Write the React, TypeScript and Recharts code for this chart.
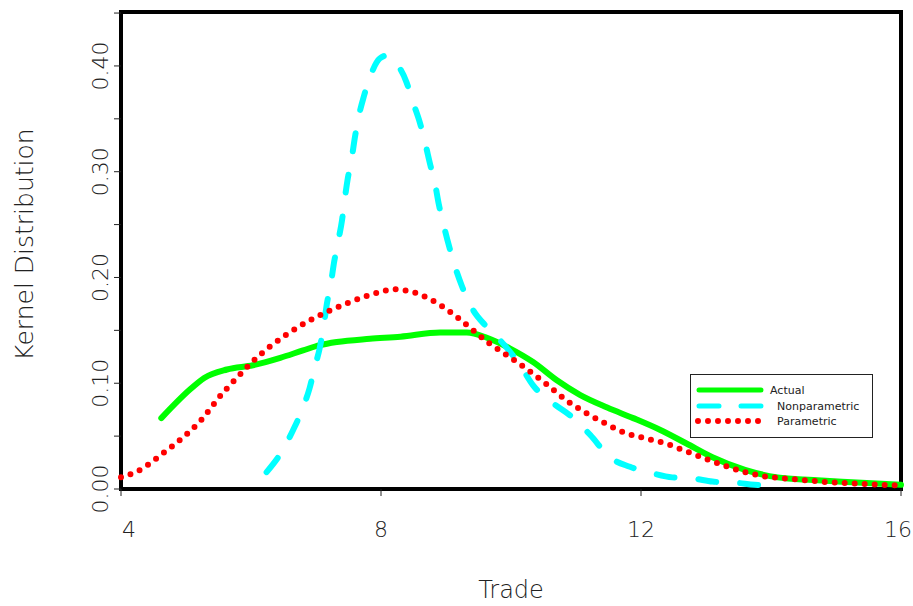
import { LineChart, Line, XAxis, YAxis, ReferenceArea, Legend } from 'recharts';

// Actual kernel density
const actualX = [4.62, 5.06, 5.28, 5.63, 6.03, 6.45, 6.8, 7.06, 7.32, 7.83, 8.3, 8.91, 9.32, 9.63, 9.98, 10.34, 10.7, 11.06, 11.48, 11.88, 12.29, 12.7, 13.1, 13.6, 14.1, 14.65, 15.17, 16];
const actualY = [0.067, 0.094, 0.105, 0.113, 0.117, 0.124, 0.131, 0.136, 0.139, 0.142, 0.144, 0.148, 0.148, 0.143, 0.133, 0.12, 0.103, 0.089, 0.077, 0.067, 0.056, 0.043, 0.03, 0.018, 0.011, 0.0085, 0.0066, 0.004];

// Nonparametric estimate
const nonparX = [6.24, 6.49, 6.65, 6.8, 6.9, 6.98, 7.06, 7.12, 7.17, 7.23, 7.28, 7.34, 7.4, 7.44, 7.49, 7.55, 7.6, 7.66, 7.74, 7.84, 7.98, 8.1, 8.23, 8.39, 8.49, 8.6, 8.68, 8.76, 8.83, 8.89, 8.97, 9.05, 9.14, 9.25, 9.4, 9.63, 9.9, 10.14, 10.34, 10.65, 10.94, 11.22, 11.52, 11.83, 12.17, 12.48, 12.8, 13.1, 13.45, 13.75, 14.1];
const nonparY = [0.016, 0.037, 0.056, 0.077, 0.095, 0.115, 0.134, 0.155, 0.176, 0.195, 0.215, 0.234, 0.254, 0.273, 0.294, 0.313, 0.333, 0.353, 0.372, 0.391, 0.407, 0.41, 0.403, 0.385, 0.366, 0.346, 0.327, 0.306, 0.289, 0.269, 0.248, 0.229, 0.21, 0.191, 0.171, 0.153, 0.136, 0.117, 0.098, 0.081, 0.068, 0.051, 0.03, 0.021, 0.015, 0.011, 0.01, 0.007, 0.006, 0.004, 0.003];

// Parametric estimate
const paramX = [4.0, 4.32, 4.63, 4.94, 5.26, 5.5, 5.75, 6.0, 6.3, 6.57, 6.86, 7.15, 7.45, 7.76, 8.03, 8.18, 8.35, 8.5, 8.8, 9.12, 9.38, 9.66, 9.95, 10.25, 10.55, 10.85, 11.15, 11.45, 11.76, 12.06, 12.38, 12.68, 12.98, 13.29, 13.6, 13.9, 14.2, 14.5, 14.83, 15.14, 15.45, 15.78, 16];
const paramY = [0.011, 0.019, 0.033, 0.048, 0.067, 0.086, 0.103, 0.119, 0.135, 0.147, 0.158, 0.167, 0.175, 0.182, 0.187, 0.189, 0.188, 0.186, 0.178, 0.165, 0.152, 0.138, 0.126, 0.113, 0.099, 0.084, 0.072, 0.062, 0.053, 0.048, 0.043, 0.036, 0.029, 0.022, 0.016, 0.012, 0.01, 0.0085, 0.0066, 0.0057, 0.0047, 0.0038, 0.0035];

const xTicks = [4, 8, 12, 16];
const yTicks = [0, 0.05, 0.1, 0.15, 0.2, 0.25, 0.3, 0.35, 0.4, 0.45];
const yLabelTicks = [0, 0.1, 0.2, 0.3, 0.4];
const seriesNames = ['Actual', 'Nonparametric', 'Parametric'];

const toPoints = (xs: number[], ys: number[]) => xs.map((x, i) => ({ x, y: ys[i] }));
const actualData = toPoints(actualX, actualY);
const nonparData = toPoints(nonparX, nonparY);
const paramData = toPoints(paramX, paramY);

const FONT = '"DejaVu Sans", sans-serif';
const GREEN = '#00ff00';
const CYAN = '#00ffff';
const RED = '#ff0000';

function YTick({ x, y, payload }: any) {
  const v = payload.value;
  if (!yLabelTicks.some((t) => Math.abs(t - v) < 1e-6)) return <g />;
  return (
    <text x={x} y={y} transform={`rotate(-90 ${x} ${y})`} textAnchor="middle"
      fontFamily={FONT} fontWeight={200} fontSize={22} fill="#222">
      {v.toFixed(2)}
    </text>
  );
}

function XTick({ x, y, payload, index }: any) {
  // first and last labels nudged inward so they stay clear of the edges
  const dx = index === 0 ? 8 : index === xTicks.length - 1 ? -3 : 0;
  return (
    <text x={x + dx} y={y + 35} textAnchor="middle"
      fontFamily={FONT} fontWeight={200} fontSize={22} fill="#222">
      {payload.value}
    </text>
  );
}

function LegendBox() {
  return (
    <svg width={183} height={64} style={{ display: 'block' }}>
      <rect x={0.5} y={0.5} width={182} height={63} fill="#fff" stroke="#222" />
      <line x1={9} y1={16} x2={71} y2={16} stroke={GREEN} strokeWidth={5} strokeLinecap="round" />
      <line x1={9} y1={32} x2={71} y2={32} stroke={CYAN} strokeWidth={5} strokeLinecap="round" strokeDasharray="20 22" />
      <line x1={8} y1={47} x2={70} y2={47} stroke={RED} strokeWidth={6} strokeLinecap="round" strokeDasharray="0 10" />
      <text x={80} y={20} fontFamily={FONT} fontSize={11} fill="#222">{seriesNames[0]}</text>
      <text x={87} y={36} fontFamily={FONT} fontSize={11} fill="#222">{seriesNames[1]}</text>
      <text x={87} y={51} fontFamily={FONT} fontSize={11} fill="#222">{seriesNames[2]}</text>
    </svg>
  );
}

export default function App() {
  return (
    <div style={{ position: 'absolute', left: 0, top: 0, background: '#fff' }}>
      <LineChart width={913} height={606} margin={{ top: 0, right: 0, bottom: 0, left: 0 }}>
        <XAxis xAxisId="b" type="number" dataKey="x" domain={[4, 16]} ticks={xTicks}
          height={117} axisLine={false} tickLine={{ stroke: '#222' }} tickSize={7} tickMargin={6}
          tick={<XTick />} interval={0}
          label={{
            content: ({ viewBox }: any) => (
              <text x={viewBox.x + viewBox.width / 2} y={viewBox.y + 109} textAnchor="middle"
                fontFamily={FONT} fontWeight={200} fontSize={24} fill="#222">Trade</text>
            ),
          }} />
        <XAxis xAxisId="t" orientation="top" type="number" dataKey="x" domain={[4, 16]} ticks={xTicks}
          height={12} axisLine={false} tickLine={{ stroke: '#222' }} tickSize={7} tick={false} interval={0} />
        <YAxis yAxisId="l" type="number" domain={[0, 0.451]} ticks={yTicks} width={121}
          axisLine={false} tickLine={{ stroke: '#222' }} tickSize={7} tickMargin={6}
          tick={<YTick />} interval={0}
          label={{
            content: ({ viewBox }: any) => {
              const cx = viewBox.x + 33;
              const cy = viewBox.y + viewBox.height / 2 - 6;
              return (
                <text x={cx} y={cy} transform={`rotate(-90 ${cx} ${cy})`} textAnchor="middle"
                  fontFamily={FONT} fontWeight={200} fontSize={25} fill="#222">Kernel Distribution</text>
              );
            },
          }} />
        <YAxis yAxisId="r" orientation="right" type="number" domain={[0, 0.451]} ticks={yTicks} width={12}
          axisLine={false} tickLine={{ stroke: '#222' }} tickSize={7} tick={false} interval={0} />
        <ReferenceArea xAxisId="b" yAxisId="l" x1={4} x2={16} y1={0} y2={0.451}
          fill="none" stroke="#000" strokeWidth={4} />
        <Line xAxisId="b" yAxisId="l" data={actualData} dataKey="y" type="monotone" stroke={GREEN}
          strokeWidth={6} strokeLinecap="round" dot={false} isAnimationActive={false} name={seriesNames[0]} />
        <Line xAxisId="b" yAxisId="l" data={nonparData} dataKey="y" type="monotone" stroke={CYAN}
          strokeWidth={6} strokeLinecap="round" strokeDasharray="18 24" dot={false} isAnimationActive={false} name={seriesNames[1]} />
        <Line xAxisId="b" yAxisId="l" data={paramData} dataKey="y" type="monotone" stroke={RED}
          strokeWidth={6} strokeLinecap="round" strokeDasharray="0 10" dot={false} isAnimationActive={false} name={seriesNames[2]} />
        <Legend layout="horizontal" verticalAlign="middle" align="center" content={<LegendBox />}
          wrapperStyle={{ position: 'absolute', left: 690, top: 374, width: 183, height: 64 }} />
      </LineChart>
    </div>
  );
}
